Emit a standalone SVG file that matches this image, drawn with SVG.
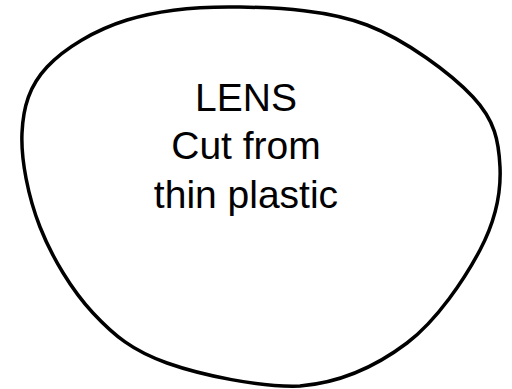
<svg xmlns="http://www.w3.org/2000/svg" width="512" height="389" viewBox="0 0 512 389">
<style>
.outline{fill:#fff;stroke:#000;stroke-width:3.5;stroke-linejoin:round}
.lbl{font-family:"Liberation Sans",Arial,sans-serif;font-size:39px;fill:#000;text-anchor:middle}
</style>
<rect width="512" height="389" fill="#fff"/>
<g id="lens">
<path class="outline" d="M22,133 C23.2,106.3 29.5,85.8 47,67 C64.5,48.2 94.8,30 127,20 C159.2,10 200,6.2 240,7 C280,7.8 328.2,10 367,25 C405.8,40 450.8,73.3 473,97 C495.2,120.7 498.8,141.5 500,167 C501.2,192.5 495.5,220.7 480,250 C464.5,279.3 437,320.3 407,343 C377,365.7 340,382.7 300,386 C260,387.5 201.5,375.2 167,363 C132.5,350.8 114.2,335.7 93,313 C71.8,290.3 51.8,257 40,227 C28.2,197 20.8,159.7 22,133 Z"/>
<text class="lbl" x="246" y="111">LENS</text>
<text class="lbl" x="246" y="159">Cut from</text>
<text class="lbl" x="246" y="208">thin plastic</text>
</g>
</svg>
